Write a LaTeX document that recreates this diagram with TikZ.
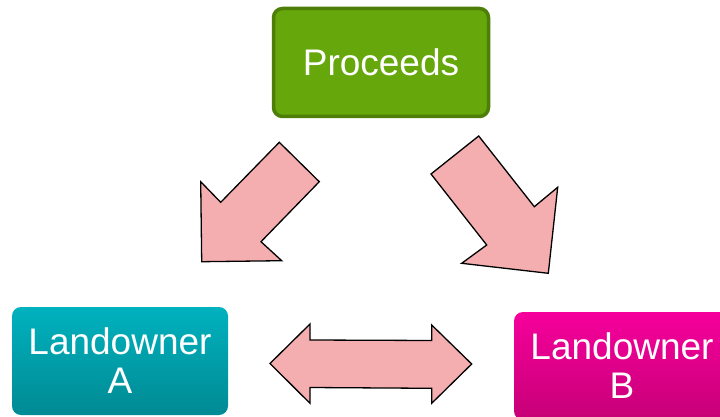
\documentclass[tikz,border=0pt]{standalone}
\usepackage{fontspec}
\setmainfont{Liberation Sans}
\definecolor{procfill}{RGB}{102,167,12}
\definecolor{procline}{RGB}{76,126,8}
\definecolor{tealtop}{RGB}{0,178,190}
\definecolor{tealbot}{RGB}{0,138,148}
\definecolor{pinktop}{RGB}{246,0,156}
\definecolor{pinkbot}{RGB}{198,0,118}
\definecolor{arrowfill}{RGB}{244,174,176}
\tikzset{
  boxtext/.style={text=white, font=\fontsize{37}{39}\selectfont, align=center, rounded corners=9pt, inner sep=0pt},
  blockarrow/.style={draw=black, fill=arrowfill, line width=1.3pt, line join=miter},
}
\begin{document}
\begin{tikzpicture}[x=1pt,y=-1pt]
\useasboundingbox (0,0) rectangle (720,417);
\clip (0,0) rectangle (720,417);
\node[boxtext, draw=procline, fill=procfill, line width=3.5pt, minimum width=215pt, minimum height=108pt] (proceeds) at (381,62.5) {Proceeds};
\node[boxtext, top color=tealtop, bottom color=tealbot, minimum width=216pt, minimum height=108pt] (landA) at (120,361) {Landowner\\A};
\node[boxtext, top color=pinktop, bottom color=pinkbot, minimum width=216pt, minimum height=108pt] (landB) at (622,366) {Landowner\\B};
% left-down arrow
\draw[blockarrow] (279.3,142.3) -- (319.3,181.7) -- (261,241.7) -- (281.7,260.7) -- (201.7,261.7) -- (200.7,181.7) -- (220.7,202.3) -- cycle;
% right-down arrow
\draw[blockarrow] (478.7,136) -- (431,174) -- (486.7,245) -- (461.7,263.3) -- (548.3,273.3) -- (557.7,187.3) -- (534.3,206.7) -- cycle;
% double arrow
\draw[blockarrow] (270,363.5) -- (310,324) -- (310,340) -- (431.7,340.5) -- (431.7,325) -- (471.7,364) -- (431.7,403.3) -- (431.7,388.3) -- (310,387.5) -- (310,403.3) -- cycle;
\end{tikzpicture}
\end{document}
